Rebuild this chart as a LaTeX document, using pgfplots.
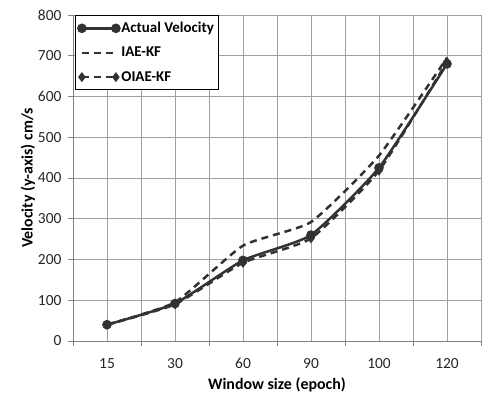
\documentclass[border=0pt]{standalone}
\usepackage{fontspec}
\setmainfont{Carlito}
\usepackage{pgfplots}
\pgfplotsset{compat=1.18}
\definecolor{gridgray}{RGB}{160,160,160}
\definecolor{axgray}{RGB}{130,130,130}
\definecolor{lineg}{RGB}{50,50,50}
\begin{document}
\begin{tikzpicture}[x=1bp,y=1bp]
\begin{axis}[
    scale only axis,
    width=408bp, height=326bp,
    at={(0,0)}, anchor=south west,
    xmin=-0.5, xmax=5.5,
    ymin=0, ymax=800,
    ytick={0,100,...,800},
    xtick={0,...,5},
    xticklabels={15,30,60,90,100,120},
    minor xtick={-0.5,0.5,...,5.5},
    axis lines=left,
    axis line style={-, axgray, line width=0.8pt},
    major grid style={gridgray, line width=0.6pt},
    minor grid style={gridgray, line width=0.6pt},
    xmajorgrids, xminorgrids, ymajorgrids,
    tick style={axgray, line width=0.8pt},
    major x tick style={draw=none},
    tick align=outside,
    major tick length=5bp, minor tick length=5bp,
    tick label style={font=\fontsize{15.5}{17}\selectfont, text=black!85},
    /pgf/number format/assume math mode=true,
    xticklabel style={yshift=-9bp},
    yticklabel style={xshift=-3bp},
    xlabel={\textbf{Window size (epoch)}},
    ylabel={\textbf{Velocity (y-axis) cm/s}},
    label style={font=\fontsize{16}{18}\selectfont},
    xlabel style={yshift=-2bp},
    ylabel style={yshift=-4bp},
    legend style={at={(0.005,1)}, anchor=north west, draw=black, line width=0.7pt,
        font=\bfseries\fontsize{15}{17}\selectfont, row sep=9bp,
        inner xsep=3bp, inner ysep=5bp, cells={anchor=west}},
    legend image code/.code={\draw[#1] plot coordinates {(0cm,0cm) (1.2cm,0cm)};},
    clip=false,
]
\addplot[lineg, line width=2.5pt, smooth, tension=0.3, mark=*, mark size=3.5bp,
    mark options={solid}] coordinates {
    (0,40) (1,92) (2,198) (3,260) (4,425) (5,680)
};
\addlegendentry{Actual Velocity}
\addplot[lineg, line width=2.5pt, dash pattern=on 7bp off 5bp, smooth, tension=0.3] coordinates {
    (0,40) (1,95) (2,234) (3,292) (4,455) (5,695)
};
\addlegendentry{IAE-KF}
\addplot[lineg, line width=2.5pt, dash pattern=on 7bp off 5bp, smooth, tension=0.3, mark=diamond*,
    mark size=3bp, mark options={solid}] coordinates {
    (0,40) (1,90) (2,192) (3,252) (4,418) (5,685)
};
\addlegendentry{OIAE-KF}
\end{axis}
\pgfresetboundingbox
\path (-73bp,-64bp) rectangle (410bp,341bp);
\end{tikzpicture}
\end{document}
